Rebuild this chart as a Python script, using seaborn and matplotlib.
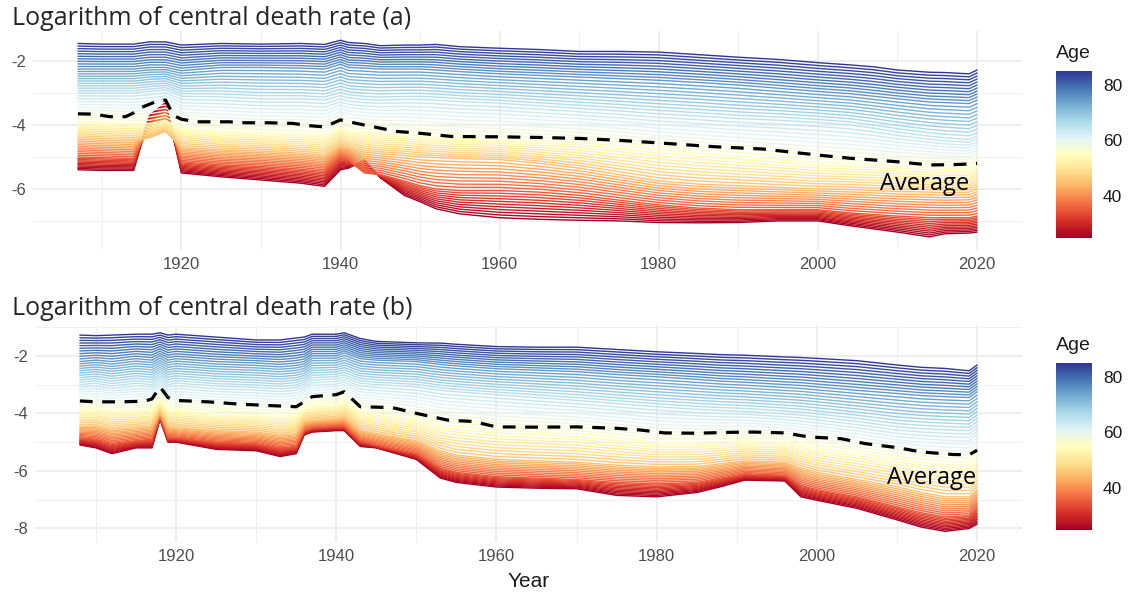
import numpy as np
import pandas as pd
import matplotlib
matplotlib.use("Agg")
import matplotlib.pyplot as plt
import seaborn as sns
from matplotlib.colors import Normalize
from matplotlib.cm import ScalarMappable
from matplotlib.ticker import MultipleLocator

# ---------------- data ----------------
ref_ages = [25, 35, 45, 55, 65, 75, 85]
ages = list(range(25, 86))

# Panel (a)
years_a = [1907, 1910, 1914, 1916, 1918, 1920, 1925, 1930, 1935, 1938, 1940, 1941,
           1943, 1945, 1948, 1950, 1952, 1955, 1960, 1965, 1970, 1975, 1980, 1985,
           1990, 1995, 2000, 2004, 2007, 2010, 2014, 2016, 2019, 2020]
a_age85 = [-1.45, -1.47, -1.47, -1.40, -1.40, -1.50, -1.45, -1.47, -1.45, -1.48, -1.35, -1.42,
           -1.45, -1.52, -1.50, -1.50, -1.48, -1.55, -1.60, -1.64, -1.70, -1.70, -1.72, -1.80,
           -1.88, -1.95, -2.05, -2.12, -2.18, -2.28, -2.35, -2.36, -2.40, -2.28]
a_age75 = [-2.25, -2.25, -2.25, -2.20, -2.20, -2.30, -2.20, -2.20, -2.22, -2.25, -2.10, -2.20,
           -2.22, -2.25, -2.25, -2.25, -2.28, -2.33, -2.40, -2.45, -2.50, -2.55, -2.60, -2.67,
           -2.75, -2.85, -2.95, -3.02, -3.10, -3.18, -3.28, -3.30, -3.33, -3.22]
a_age65 = [-3.00, -3.00, -3.00, -2.95, -2.90, -3.10, -3.12, -3.18, -3.18, -3.22, -3.08, -3.15,
           -3.20, -3.22, -3.20, -3.20, -3.22, -3.27, -3.32, -3.40, -3.48, -3.56, -3.65, -3.72,
           -3.80, -3.85, -3.92, -4.00, -4.10, -4.22, -4.35, -4.40, -4.45, -4.35]
a_age55 = [-3.90, -3.92, -3.95, -3.95, -3.85, -4.10, -4.20, -4.25, -4.28, -4.32, -4.08, -4.18,
           -4.22, -4.28, -4.30, -4.35, -4.38, -4.42, -4.45, -4.50, -4.55, -4.65, -4.78, -4.88,
           -4.98, -5.08, -5.18, -5.22, -5.25, -5.28, -5.32, -5.35, -5.35, -5.25]
a_age45 = [-4.45, -4.48, -4.50, -4.40, -4.20, -4.70, -4.78, -4.82, -4.88, -4.95, -4.65, -4.72,
           -4.85, -4.90, -4.95, -5.00, -5.02, -5.05, -5.08, -5.20, -5.35, -5.55, -5.75, -5.85,
           -5.90, -5.95, -6.00, -6.02, -6.05, -6.08, -6.10, -6.12, -6.10, -6.00]
a_age35 = [-5.00, -5.02, -5.05, -4.00, -3.55, -5.15, -5.25, -5.30, -5.38, -5.45, -5.00, -5.10,
           -5.50, -5.55, -5.75, -5.90, -6.00, -6.05, -6.05, -6.10, -6.20, -6.35, -6.50, -6.60,
           -6.65, -6.65, -6.65, -6.75, -6.80, -6.85, -6.90, -6.90, -6.90, -6.85]
a_age25 = [-5.40, -5.42, -5.42, -3.70, -3.30, -5.50, -5.62, -5.72, -5.82, -5.92, -5.40, -5.35,
           -5.10, -5.65, -6.20, -6.40, -6.62, -6.78, -6.90, -6.95, -6.98, -7.00, -7.05, -7.06,
           -7.05, -7.00, -7.00, -7.15, -7.25, -7.35, -7.50, -7.40, -7.38, -7.35]
avg_years_a = [1907, 1909, 1911, 1913, 1914, 1915, 1917, 1918, 1919, 1920, 1922, 1926, 1928,
               1931, 1934, 1936, 1938, 1940, 1942, 1944, 1947, 1950, 1954, 1960, 1965, 1970,
               1975, 1980, 1987, 1993, 2000, 2004, 2010, 2014, 2017, 2019, 2020]
avg_a = [-3.65, -3.66, -3.74, -3.74, -3.62, -3.45, -3.25, -3.22, -3.70, -3.82, -3.90, -3.90,
         -3.93, -3.93, -3.95, -4.02, -4.06, -3.84, -3.95, -4.05, -4.20, -4.26, -4.36, -4.37,
         -4.39, -4.42, -4.48, -4.56, -4.68, -4.75, -4.94, -5.04, -5.15, -5.25, -5.24, -5.22, -5.20]

# Panel (b)
years_b = [1908, 1910, 1912, 1915, 1917, 1918, 1919, 1920, 1925, 1930, 1933, 1935, 1936,
           1937, 1940, 1941, 1943, 1945, 1950, 1953, 1955, 1960, 1965, 1970, 1975, 1980,
           1985, 1988, 1991, 1996, 1998, 2000, 2005, 2010, 2013, 2016, 2019, 2020]
b_age85 = [-1.28, -1.30, -1.28, -1.25, -1.25, -1.20, -1.28, -1.25, -1.35, -1.45, -1.45, -1.38, -1.35,
           -1.25, -1.25, -1.20, -1.40, -1.50, -1.55, -1.56, -1.60, -1.68, -1.70, -1.70, -1.78, -1.86,
           -1.92, -1.96, -1.98, -2.04, -2.06, -2.09, -2.17, -2.32, -2.40, -2.44, -2.52, -2.32]
b_age75 = [-2.20, -2.15, -2.20, -2.10, -2.15, -2.00, -2.15, -2.10, -2.20, -2.25, -2.30, -2.25, -2.20,
           -2.00, -2.00, -1.90, -2.10, -2.15, -2.20, -2.30, -2.35, -2.45, -2.50, -2.55, -2.65, -2.73,
           -2.82, -2.88, -2.92, -3.00, -3.03, -3.08, -3.20, -3.31, -3.38, -3.42, -3.45, -3.25]
b_age65 = [-3.00, -2.95, -3.05, -2.95, -3.00, -2.80, -3.00, -2.95, -3.05, -3.10, -3.15, -3.10, -3.00,
           -2.85, -2.80, -2.75, -2.95, -3.00, -3.08, -3.20, -3.25, -3.35, -3.45, -3.55, -3.66, -3.77,
           -3.86, -3.90, -3.93, -4.02, -4.06, -4.12, -4.28, -4.47, -4.53, -4.57, -4.60, -4.40]
b_age55 = [-3.85, -3.85, -3.90, -3.90, -3.85, -3.55, -3.85, -3.90, -4.00, -4.05, -4.10, -4.05, -3.85,
           -3.75, -3.70, -3.60, -3.95, -4.00, -4.20, -4.40, -4.45, -4.58, -4.65, -4.70, -4.85, -5.00,
           -5.00, -4.98, -4.95, -5.00, -5.10, -5.20, -5.38, -5.60, -5.70, -5.78, -5.80, -5.55]
b_age45 = [-4.45, -4.45, -4.55, -4.50, -4.45, -3.95, -4.45, -4.50, -4.60, -4.65, -4.75, -4.70, -4.30,
           -4.25, -4.20, -4.15, -4.60, -4.70, -4.95, -5.30, -5.45, -5.60, -5.65, -5.70, -5.80, -5.86,
           -5.85, -5.75, -5.65, -5.70, -5.90, -6.05, -6.30, -6.55, -6.75, -6.90, -6.90, -6.65]
b_age35 = [-4.85, -4.90, -5.05, -4.95, -4.90, -4.10, -4.85, -4.85, -5.00, -5.05, -5.20, -5.15, -4.60,
           -4.50, -4.45, -4.45, -4.95, -5.10, -5.40, -5.90, -6.05, -6.20, -6.25, -6.30, -6.40, -6.45,
           -6.40, -6.25, -6.10, -6.15, -6.50, -6.65, -6.90, -7.25, -7.45, -7.60, -7.55, -7.30]
b_age25 = [-5.10, -5.20, -5.40, -5.20, -5.20, -4.20, -5.00, -5.00, -5.25, -5.30, -5.50, -5.40, -4.75,
           -4.65, -4.60, -4.60, -5.15, -5.20, -5.60, -6.25, -6.40, -6.56, -6.60, -6.62, -6.85, -6.90,
           -6.75, -6.55, -6.32, -6.35, -6.90, -7.02, -7.30, -7.70, -7.95, -8.10, -8.00, -7.85]
avg_years_b = [1908, 1910, 1913, 1916, 1917, 1918, 1919, 1920, 1924, 1928, 1931, 1935, 1936, 1937,
               1940, 1941, 1943, 1947, 1950, 1954, 1957, 1960, 1965, 1970, 1975, 1978, 1981, 1985,
               1989, 1992, 1996, 1999, 2003, 2006, 2010, 2013, 2017, 2019, 2020]
avg_b = [-3.57, -3.60, -3.60, -3.58, -3.50, -3.08, -3.45, -3.55, -3.60, -3.68, -3.72, -3.77, -3.60,
         -3.42, -3.35, -3.25, -3.77, -3.80, -4.00, -4.24, -4.28, -4.47, -4.48, -4.47, -4.52, -4.58,
         -4.68, -4.69, -4.66, -4.65, -4.68, -4.82, -4.88, -5.05, -5.19, -5.34, -5.43, -5.44, -5.28]

titles = ["Logarithm of central death rate (a)", "Logarithm of central death rate (b)"]
xticks = [1920, 1940, 1960, 1980, 2000, 2020]
yticks_a = [-6, -4, -2]
yticks_b = [-8, -6, -4, -2]
cbar_ticks = [40, 60, 80]


def build_frame(years, refs):
    rows = []
    for age in ages:
        for k, yr in enumerate(years):
            v = np.interp(age, ref_ages, [r[k] for r in refs])
            rows.append((yr, age, v))
    return pd.DataFrame(rows, columns=["Year", "Age", "LogRate"])


df_a = build_frame(years_a, [a_age25, a_age35, a_age45, a_age55, a_age65, a_age75, a_age85])
df_b = build_frame(years_b, [b_age25, b_age35, b_age45, b_age55, b_age65, b_age75, b_age85])
avg_df_a = pd.DataFrame({"Year": avg_years_a, "LogRate": avg_a})
avg_df_b = pd.DataFrame({"Year": avg_years_b, "LogRate": avg_b})

# ---------------- figure ----------------
sns.set_theme(style="white")
plt.rcParams["font.family"] = ["Liberation Sans", "DejaVu Sans"]
plt.rcParams["axes.unicode_minus"] = False

W, H = 1128, 596
fig = plt.figure(figsize=(W / 100, H / 100), dpi=100)


def fr(x0, y0, x1, y1):
    return [x0 / W, 1 - y1 / H, (x1 - x0) / W, (y1 - y0) / H]


ax_a = fig.add_axes(fr(33, 31, 1022, 250))
ax_b = fig.add_axes(fr(35, 325, 1022, 542))
cmap = "RdYlBu"
norm = Normalize(25, 85)
title_font = ["Open Sans", "DejaVu Sans"]

specs = [
    (ax_a, df_a, avg_df_a, (1901.35, 2025.65), (-7.91, -1.06), yticks_a, (2019.0, -6.03)),
    (ax_b, df_b, avg_df_b, (1902.4, 2025.6), (-8.47, -0.93), yticks_b, (2019.9, -6.44)),
]

for i, (ax, df, adf, xl, yl, yt, lab) in enumerate(specs):
    sns.lineplot(data=df, x="Year", y="LogRate", hue="Age", palette=cmap, hue_norm=norm,
                 units="Age", estimator=None, legend=False, linewidth=1.0, ax=ax)
    sns.lineplot(data=adf, x="Year", y="LogRate", color="black", linewidth=2.3,
                 linestyle=(0, (4, 3)), ax=ax)
    ax.set_xlim(*xl)
    ax.set_ylim(*yl)
    ax.set_xticks(xticks)
    ax.set_yticks(yt)
    ax.xaxis.set_minor_locator(MultipleLocator(10))
    ax.yaxis.set_minor_locator(MultipleLocator(1))
    ax.grid(which="major", color="#EBEBEB", linewidth=1.2)
    ax.grid(which="minor", color="#F0F0F0", linewidth=0.8)
    ax.set_axisbelow(True)
    for s in ax.spines.values():
        s.set_visible(False)
    ax.tick_params(which="both", length=0, labelsize=12, labelcolor="#4D4D4D", pad=5)
    ax.set_ylabel("")
    ax.set_xlabel("Year" if i == 1 else "", fontsize=15, color="#1A1A1A", labelpad=6)
    ax.text(lab[0], lab[1], "Average", ha="right", va="baseline", fontsize=17,
            family=title_font, color="black")

# titles
fig.text(12 / W, 1 - 25 / H, titles[0], fontsize=18, family=title_font,
         va="baseline", ha="left")
fig.text(12 / W, 1 - 315 / H, titles[1], fontsize=18, family=title_font,
         va="baseline", ha="left")

# colorbars
for (top, bot, ttl_y) in [(71.1, 237.6, 54), (362.8, 529.7, 345)]:
    cax = fig.add_axes(fr(1056, top, 1092, bot))
    sm = ScalarMappable(norm=norm, cmap=cmap)
    sm.set_array([])
    cb = fig.colorbar(sm, cax=cax)
    cb.outline.set_visible(False)
    cb.set_ticks(cbar_ticks)
    cax.yaxis.set_ticks_position("both")
    cax.tick_params(length=5, width=1, color="white", direction="in", labelsize=12.5,
                    labelcolor="#1A1A1A", pad=8, labelright=True, labelleft=False)
    fig.text(1056 / W, 1 - ttl_y / H, "Age", fontsize=14, va="center", ha="left",
             color="#1A1A1A")

fig.savefig("out.png", dpi=100)
